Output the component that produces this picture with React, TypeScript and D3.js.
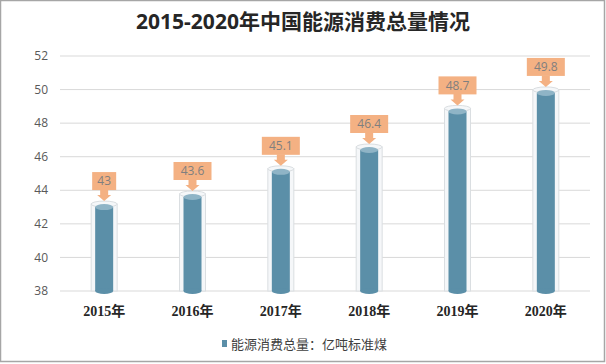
import React from 'react';
import * as d3 from 'd3';

const years = ['2015年', '2016年', '2017年', '2018年', '2019年', '2020年'];
const consumption = [43, 43.6, 45.1, 46.4, 48.7, 49.8];
const yTicks = [38, 40, 42, 44, 46, 48, 50, 52];

const W = 606;
const H = 364;
const margin = { left: 60, right: 16, top: 56, bottom: 73 };

export default function App() {
  const x = d3
    .scaleBand()
    .domain(years)
    .range([margin.left, W - margin.right])
    .padding(0);
  const y = d3
    .scaleLinear()
    .domain([38, 52])
    .range([H - margin.bottom, margin.top]);

  const bw = 18;
  const ow = 26;

  return (
    <div style={{ position: 'absolute', left: 0, top: 0 }}>
      <svg width={W} height={H} style={{ display: 'block' }}>
        <rect x={0.5} y={0.5} width={W - 2} height={H - 3} fill="#fff" stroke="#a6a6a6" strokeWidth={1.5} />
        <text
          x={W / 2}
          y={29}
          textAnchor="middle"
          fontFamily="'Open Sans', 'Noto Sans CJK SC', sans-serif"
          fontWeight="bold"
          fontSize={21}
          fill="#262626"
        >
          2015-2020年中国能源消费总量情况
        </text>

        {yTicks.map((t) => (
          <g key={t}>
            <line x1={margin.left} x2={W - margin.right} y1={y(t)} y2={y(t)} stroke="#d9d9d9" strokeWidth={1} />
            <text
              x={48}
              y={y(t)}
              dy="0.35em"
              textAnchor="end"
              fontFamily="'Open Sans', 'Noto Sans CJK SC', sans-serif"
              fontSize={12}
              fill="#595959"
            >
              {t}
            </text>
          </g>
        ))}

        {years.map((yr, i) => {
          const cx = (x(yr) as number) + x.bandwidth() / 2;
          const v = consumption[i];
          const top = y(v);
          const base = y(38);
          const label = String(v);
          const lw = label.length * 7 + 10;
          return (
            <g key={yr}>
              {/* outer glass cylinder */}
              <rect x={cx - ow / 2} y={top - 3} width={ow} height={base - top + 3} fill="#f5f7f9" stroke="#dadee1" strokeWidth={1} />
              <ellipse cx={cx} cy={top - 3} rx={ow / 2} ry={3} fill="#f5f7f9" stroke="#dadee1" />
              {/* inner cylinder */}
              <rect x={cx - bw / 2} y={top} width={bw} height={base - top} fill="#5b8fa8" />
              <ellipse cx={cx} cy={base} rx={bw / 2} ry={3} fill="#5b8fa8" />
              <ellipse cx={cx} cy={top} rx={bw / 2} ry={3} fill="#8fb4c6" />
              {/* callout */}
              <rect x={cx - lw / 2} y={top - 35} width={lw} height={18} fill="#f4b183" />
              <path
                d={`M${cx - 4},${top - 17.5} L${cx + 4},${top - 17.5} L${cx + 4},${top - 12} L${cx + 7},${top - 12} L${cx},${top - 6} L${cx - 7},${top - 12} L${cx - 4},${top - 12} Z`}
                fill="#f4b183"
              />
              <text
                x={cx}
                y={top - 26}
                dy="0.35em"
                textAnchor="middle"
                fontFamily="'Open Sans', sans-serif"
                fontSize={12}
                fill="#7f7f7f"
              >
                {label}
              </text>
              <text
                x={cx}
                y={H - margin.bottom + 25}
                textAnchor="middle"
                fontFamily="'Liberation Serif', 'Noto Sans CJK SC', serif"
                fontWeight="bold"
                fontSize={14}
                fill="#262626"
              >
                {yr}
              </text>
            </g>
          );
        })}

        <rect x={222} y={340} width={5} height={7} fill="#5b8fa8" />
        <text
          x={231}
          y={344}
          dy="0.35em"
          fontFamily="'Noto Sans CJK SC', sans-serif"
          fontSize={13}
          fill="#404040"
        >
          能源消费总量：亿吨标准煤
        </text>
      </svg>
    </div>
  );
}
